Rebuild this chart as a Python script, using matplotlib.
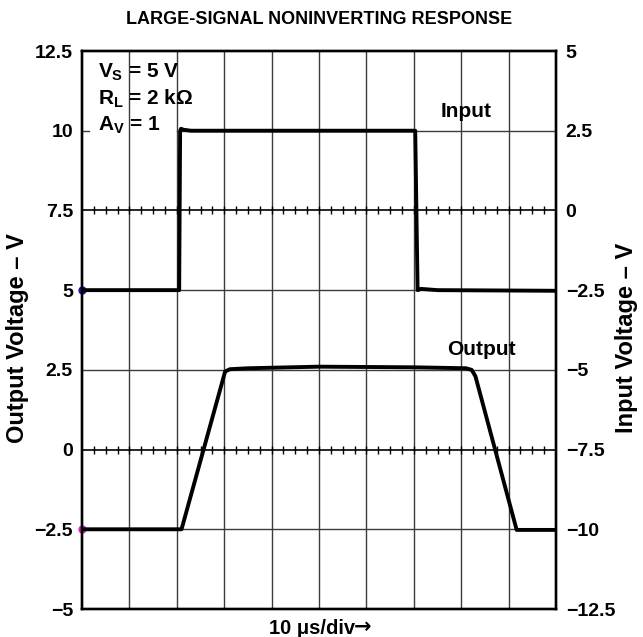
import numpy as np
import matplotlib
matplotlib.use('Agg')
import matplotlib.pyplot as plt

plt.rcParams['font.family'] = ['Liberation Sans', 'DejaVu Sans']
plt.rcParams['font.weight'] = 'bold'
plt.rcParams['mathtext.fontset'] = 'custom'
plt.rcParams['mathtext.rm'] = 'Liberation Sans:bold'
plt.rcParams['mathtext.it'] = 'Liberation Sans:bold'
plt.rcParams['mathtext.bf'] = 'Liberation Sans:bold'

# time in scope divisions (10 us/div)
t_in = [0, 2.05, 2.07, 2.09, 2.14, 2.3, 4.0, 6.0, 7.03, 7.08, 7.15, 7.5, 10]
v_in = [-2.5, -2.5, 2.5, 2.56, 2.53, 2.5, 2.5, 2.5, 2.5, -2.5, -2.46, -2.5, -2.52]

t_out = [0, 2.1, 3.02, 3.12, 3.5, 5.0, 7.0, 8.1, 8.22, 8.3, 9.17, 10]
v_out = [-2.5, -2.5, 2.45, 2.52, 2.55, 2.6, 2.58, 2.55, 2.5, 2.3, -2.52, -2.52]

left_ticks = [-5, -2.5, 0, 2.5, 5, 7.5, 10, 12.5]
left_labels = ['\u22125', '\u22122.5', '0', '2.5', '5', '7.5', '10', '12.5']
right_ticks = [-12.5, -10, -7.5, -5, -2.5, 0, 2.5, 5]
right_labels = ['\u221212.5', '\u221210', '\u22127.5', '\u22125', '\u22122.5', '0', '2.5', '5']

W, H = 643, 637
fig = plt.figure(figsize=(W / 100, H / 100), dpi=100)
ax = fig.add_axes([82 / W, (H - 609) / H, 474 / W, 558 / H])
ax2 = ax.twinx()

ax.set_xlim(0, 10)
ax.set_ylim(-5, 12.5)
ax2.set_ylim(-12.5, 5)

# graticule
gc = '#3c3c3c'
for x in range(1, 10):
    ax.axvline(x, color=gc, lw=1.0, zorder=1)
for y in [5, 2.5, -2.5]:
    ax.axhline(y, color=gc, lw=1.0, zorder=1)
ax.plot([0, 0.14], [10, 10], color=gc, lw=1.0, zorder=1)
ax.plot([2.0, 10], [10, 10], color=gc, lw=1.0, zorder=1)
minor = np.arange(0.25, 10, 0.25)
for y in [7.5, 0]:
    ax.axhline(y, color='black', lw=1.2, zorder=1)
    ax.plot(minor, np.full_like(minor, y), ls='none', marker='|',
            ms=6, mew=1.0, color='black', zorder=1)

ax2.plot(t_in, v_in, color='black', lw=2.8, zorder=3)
ax.plot(t_out, v_out, color='black', lw=2.8, zorder=3)

ax.plot([0], [5], marker='o', ms=5, color='#1a1aa8', clip_on=False, zorder=2)
ax.plot([0], [-2.5], marker='o', ms=5, color='#e020e0', clip_on=False, zorder=2)

ax.set_xticks([])
ax.set_yticks(left_ticks)
ax.set_yticklabels(left_labels)
ax2.set_yticks(right_ticks)
ax2.set_yticklabels(right_labels)
ax.tick_params(axis='y', length=0, pad=6.5, labelsize=14)
ax2.tick_params(axis='y', length=0, pad=7, labelsize=14)
for a in (ax, ax2):
    for s in a.spines.values():
        s.set_linewidth(1.7)

fs = 15
ax.text(0.034, 0.953, r'$V_S$ = 5 V', transform=ax.transAxes, fontsize=fs,
        fontweight='bold', va='baseline')
ax.text(0.034, 0.9045, r'$R_L$ = 2 k$\Omega$', transform=ax.transAxes, fontsize=fs,
        fontweight='bold', va='baseline')
ax.text(0.034, 0.857, r'$A_V$ = 1', transform=ax.transAxes, fontsize=fs,
        fontweight='bold', va='baseline')
ax.text(0.757, 0.881, 'Input', transform=ax.transAxes, fontsize=fs,
        fontweight='bold', va='baseline')
ax.text(0.771, 0.455, 'Output', transform=ax.transAxes, fontsize=fs,
        fontweight='bold', va='baseline')

fig.text(319 / W, 1 - 20 / H, 'LARGE-SIGNAL NONINVERTING RESPONSE',
         ha='center', va='center', fontsize=13, fontweight='bold')
fig.text(355 / W, 1 - 628 / H, '10 \u03bcs/div',
         ha='right', va='center', fontsize=14.5, fontweight='bold')
fig.text(354 / W, 1 - 627 / H, '\u2192', family='DejaVu Sans',
         ha='left', va='center', fontsize=15)
fig.text(18 / W, 1 - 338 / H, 'Output Voltage \u2013 V', rotation=90,
         ha='center', va='center', fontsize=17, fontweight='bold')
fig.text(626 / W, 1 - 338 / H, 'Input Voltage \u2013 V', rotation=90,
         ha='center', va='center', fontsize=17, fontweight='bold')

fig.savefig('out.png', dpi=100)
